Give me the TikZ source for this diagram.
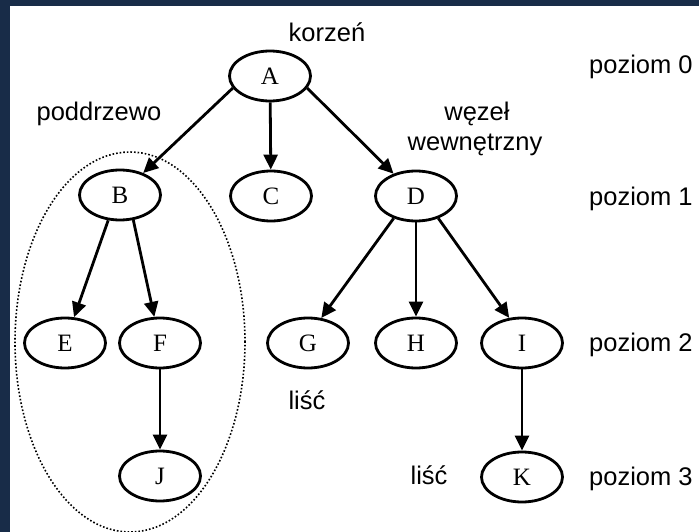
\documentclass[tikz,border=0pt]{standalone}
\usepackage{fontspec}
\setmainfont{Liberation Serif}
\newfontfamily\arialf{Liberation Sans}
\usetikzlibrary{arrows.meta,shapes.geometric}
\definecolor{navy}{RGB}{24,44,72}
\begin{document}
\begin{tikzpicture}[x=1pt,y=-1pt,
  tn/.style={draw, ellipse, line width=2.8pt, minimum width=81pt, minimum height=50pt, inner sep=0pt, font=\fontsize{25}{30}\selectfont},
  arr/.style={line width=2.8pt, -{Triangle[length=15pt,width=14pt]}},
  lbl/.style={inner sep=0pt, font=\arialf\fontsize{25.5}{30}\selectfont},
  sub/.style={draw, ellipse, dotted, line width=1.6pt, minimum width=230pt, minimum height=380pt, inner sep=0pt}]
\useasboundingbox (0,0) rectangle (699,532);
\fill[navy] (0,0) rectangle (699,532);
\fill[white] (10,6) rectangle (699,532);
\node[sub] (S) at (130,342) {};
% nodes
\node[tn] (A) at (270,76) {A};
\node[tn] (B) at (120,195) {B};
\node[tn] (C) at (271,196) {C};
\node[tn] (D) at (416,196) {D};
\node[tn] (E) at (65,343) {E};
\node[tn] (F) at (160,343) {F};
\node[tn] (G) at (308,343) {G};
\node[tn] (H) at (416,343) {H};
\node[tn] (I) at (522,343) {I};
\node[tn] (J) at (160,476) {J};
\node[tn] (K) at (522,477) {K};
% edges
\draw[arr] (A.198) -- (B);
\draw[arr] (A) -- (C);
\draw[arr] (A.342) -- (D);
\draw[arr] (B.245) -- (E);
\draw[arr] (B.298) -- (F);
\draw[arr] (F) -- (J);
\draw[arr] (D.225) -- (G.62);
\draw[arr] (D) -- (H);
\draw[arr] (D.315) -- (I.117);
\draw[arr] (I) -- (K);
% labels
\node[lbl, anchor=base] (korzen) at (327,42) {korzeń};
\node[lbl, anchor=base] (podd) at (99,121) {poddrzewo};
\node[lbl, anchor=base] (wez1) at (477,121) {węzeł};
\node[lbl, anchor=base] (wez2) at (475,150) {wewnętrzny};
\node[lbl, anchor=base west] (p0) at (589,74) {poziom 0};
\node[lbl, anchor=base west] (p1) at (589,205) {poziom 1};
\node[lbl, anchor=base west] (p2) at (589,351) {poziom 2};
\node[lbl, anchor=base west] (p3) at (589,485) {poziom 3};
\node[lbl, anchor=base] (lisc1) at (307,409) {liść};
\node[lbl, anchor=base] (lisc2) at (429,484) {liść};
\end{tikzpicture}
\end{document}
